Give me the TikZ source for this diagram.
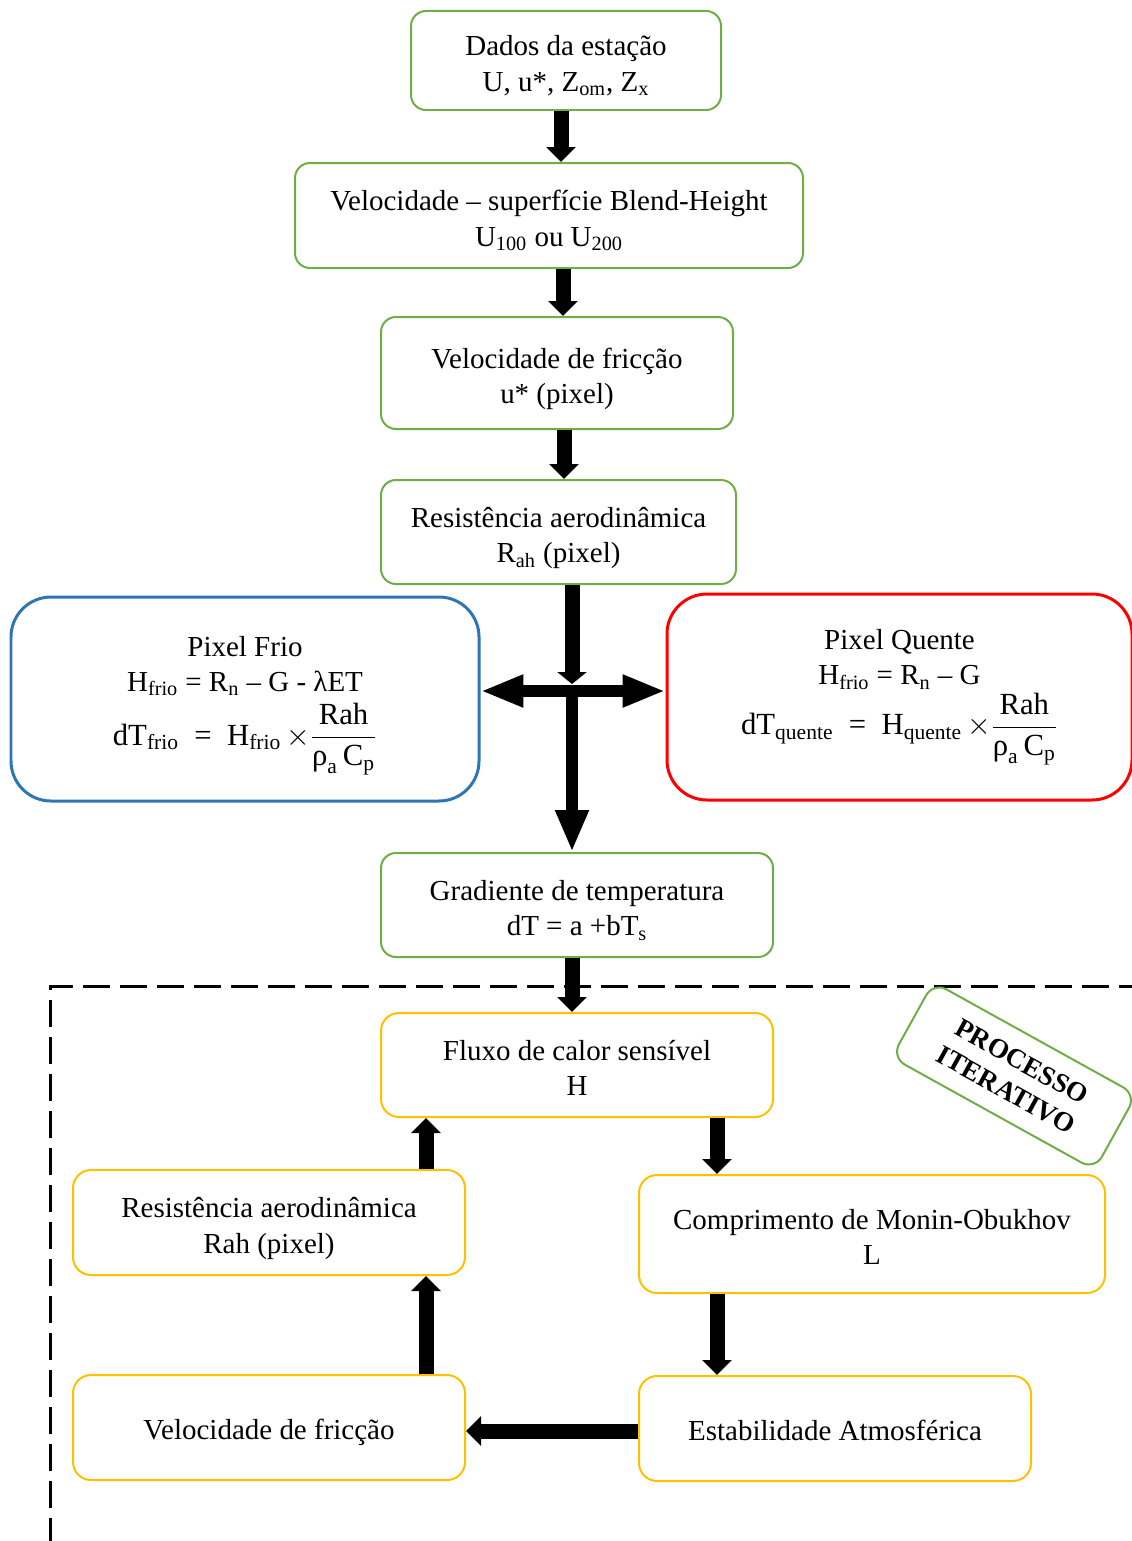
\documentclass[tikz,border=0pt]{standalone}
\usepackage{fontspec}
\usepackage{amsmath}
\setmainfont{Liberation Serif}
\usetikzlibrary{arrows.meta}
\definecolor{gcol}{RGB}{112,173,71}
\definecolor{bcol}{RGB}{46,117,182}
\definecolor{rcol}{RGB}{255,0,0}
\definecolor{ycol}{RGB}{255,192,0}
\newcommand\fmlsize{\fontsize{17.5}{21}\selectfont}
\newcommand\dtfrac{\ensuremath{\times\dfrac{\text{Rah}}{\text{ρ}_{\text{a}}\,\text{C}_{\text{p}}}}}
\newcommand\myTop{\rule{0pt}{1.15em}}
\newcommand\myBot{\rule[-0.25em]{0pt}{0.25em}}
\newcommand\myOne{\rule{0pt}{1.05em}}
\tikzset{
  basebox/.style={draw, line width=0.04cm, align=center, inner sep=0pt,
    font=\fontsize{16.5}{20}\selectfont},
  gbox/.style={basebox, draw=gcol, rounded corners=0.3cm},
  ybox/.style={basebox, draw=ycol, rounded corners=0.36cm},
  bigbox/.style={basebox, line width=0.06cm, rounded corners=0.8cm},
  sz/.style 2 args={minimum width=#1*0.02cm, minimum height=#2*0.02cm},
  blk/.style={line width=0.3cm, -{Triangle[length=0.3cm,width=0.58cm]}},
  dashline/.style={line width=0.06cm, dash pattern=on 0.54cm off 0.2cm},
  procbox/.style={draw=gcol, line width=0.04cm, rounded corners=0.3cm, align=center,
    inner sep=0pt, font=\bfseries\fontsize{15.5}{18.5}\selectfont},
}
\begin{document}
\begin{tikzpicture}[x=0.02cm,y=-0.02cm]
\useasboundingbox (0,0) rectangle (1132,1541);

% nodes
\node[gbox, sz={310}{99}] (dados) at (566,60.5) {\myTop Dados da estação\\U, u*, Z\textsubscript{om}, Z\textsubscript{x}\myBot};
\node[gbox, sz={508}{105}] (velsup) at (549,215.5) {\myTop Velocidade – superfície Blend-Height\\U\textsubscript{100} ou U\textsubscript{200}\myBot};
\node[gbox, sz={352}{112}] (fric) at (557,373) {\myTop Velocidade de fricção\\u* (pixel)\myBot};
\node[gbox, sz={355}{104}] (res) at (558.5,532) {\myTop Resistência aerodinâmica\\R\textsubscript{ah} (pixel)\myBot};
\node[bigbox, draw=bcol, sz={468}{204}] (frio) at (245,699) {\myTop Pixel Frio\\H\textsubscript{frio} = R\textsubscript{n} – G - λET\\[3pt]{\fmlsize dT$_{\text{frio}}$\enspace=\enspace H$_{\text{frio}}$\,\dtfrac}};
\node[bigbox, draw=rcol, sz={465}{206}] (quente) at (899.5,697) {Pixel Quente\\H\textsubscript{frio} = R\textsubscript{n} – G\\[1pt]{\fmlsize dT$_{\text{quente}}$\enspace=\enspace H$_{\text{quente}}$\,\dtfrac}};
\node[gbox, sz={392}{104}] (grad) at (577,905) {\myTop Gradiente de temperatura\\dT = a +bT\textsubscript{s}\myBot};

% iterative region
\draw[dashline] (50,1545) -- (50,986) -- (1140,986);

\node[ybox, sz={392}{104}] (fluxo) at (577,1065) {\myTop Fluxo de calor sensível\\H\myBot};
\node[ybox, sz={392}{105}] (res2) at (269,1222.5) {\myTop Resistência aerodinâmica\\Rah (pixel)\myBot};
\node[ybox, sz={466}{118}] (comp) at (872,1234) {\myTop Comprimento de Monin-Obukhov\\L\myBot};
\node[ybox, sz={392}{105}] (fric2) at (269,1427.5) {\myOne Velocidade de fricção\myBot};
\node[ybox, sz={392}{105}] (estab) at (835,1428.5) {\myOne Estabilidade Atmosférica\myBot};
\node[procbox, rotate=-29, sz={232}{86}] (proc) at (1014,1076) {PROCESSO\\ITERATIVO};

% alignment coordinates
\coordinate (x1) at (561,0);
\coordinate (x2) at (563,0);
\coordinate (x3) at (564,0);
\coordinate (X) at (572,691);
\coordinate (x5) at (572,0);
\coordinate (x6) at (717,0);
\coordinate (x7) at (426,0);
\coordinate (y8) at (0,1431);

% connectors
\draw[blk] (dados.south -| x1) -- (velsup.north -| x1);
\draw[blk] (velsup.south -| x2) -- (fric.north -| x2);
\draw[blk] (fric.south -| x3) -- (res.north -| x3);
\draw[line width=0.3cm, -{Triangle[length=0.24cm,width=0.58cm]}] (res.south -| X) -- ([yshift=0.14cm]X);
\draw[line width=0.24cm, {Triangle[length=0.86cm,width=0.6cm]}-{Triangle[length=0.86cm,width=0.6cm]}] (frio.east |- X) -- (quente.west |- X);
\draw[line width=0.24cm, -{Triangle[length=0.84cm,width=0.62cm]}] ([yshift=0.12cm]X) -- (grad.north -| X);
\draw[blk] (grad.south -| x5) -- (fluxo.north -| x5);
\draw[blk] (fluxo.south -| x6) -- (comp.north -| x6);
\draw[blk] (comp.south -| x6) -- (estab.north -| x6);
\draw[blk] (estab.west |- y8) -- (fric2.east |- y8);
\draw[blk] (fric2.north -| x7) -- (res2.south -| x7);
\draw[blk] (res2.north -| x7) -- (fluxo.south -| x7);
\end{tikzpicture}
\end{document}
